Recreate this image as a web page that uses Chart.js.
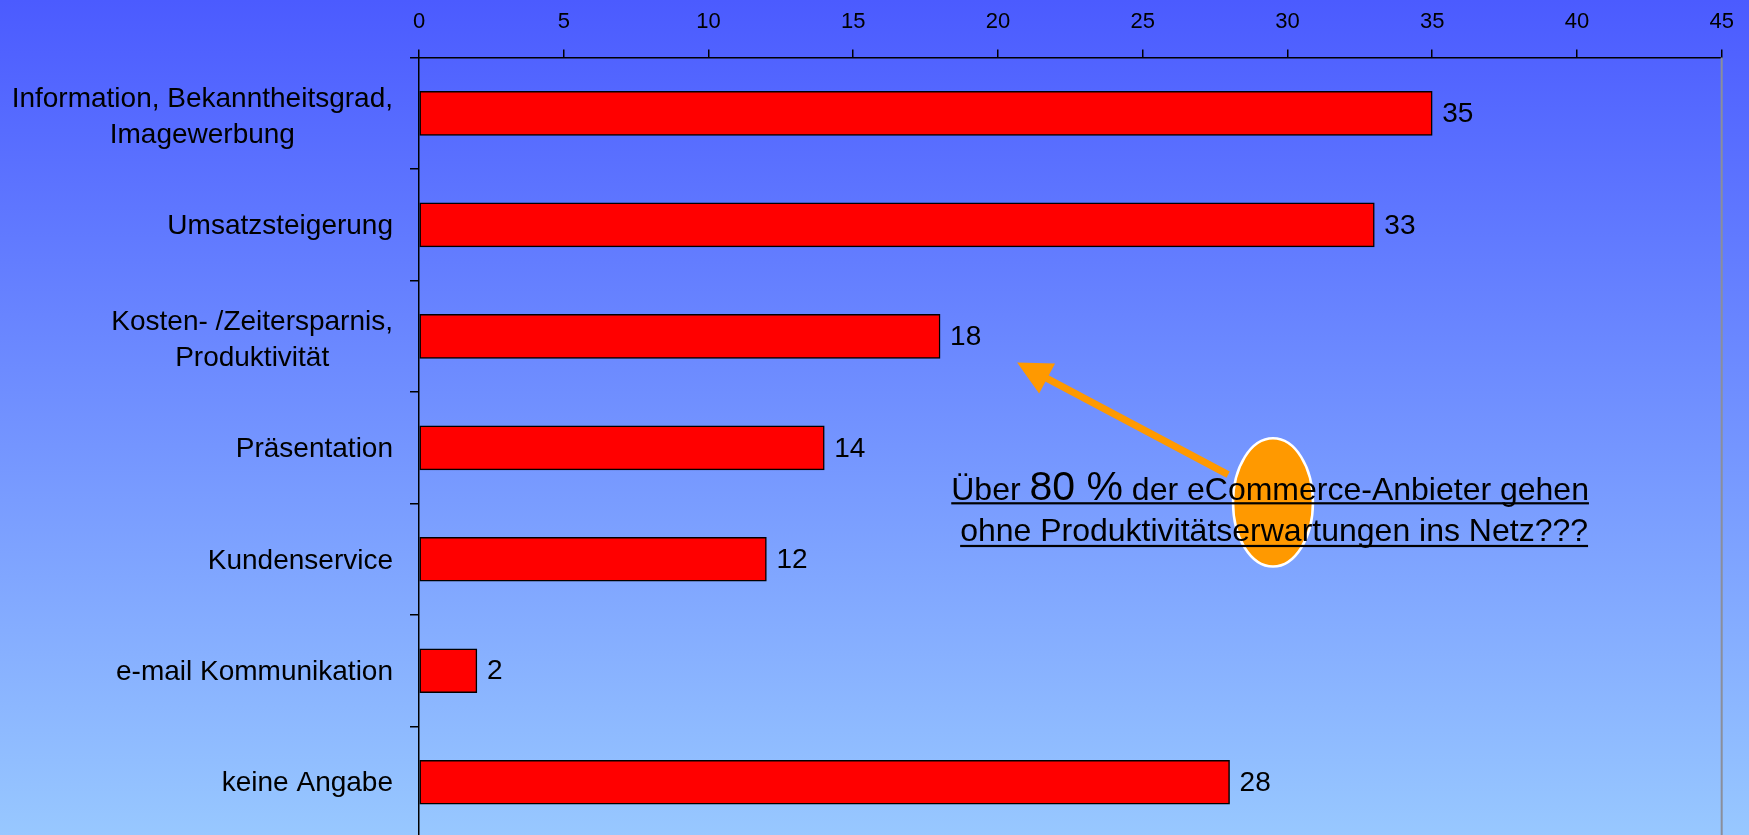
<!DOCTYPE html>
<html>
<head>
<meta charset="utf-8">
<script src="https://cdn.jsdelivr.net/npm/chart.js@4"></script>
<style>
  html, body { margin: 0; padding: 0; overflow: hidden; background: #7293ff; }
  #wrap { width: 1749px; height: 838px; }
  canvas { display: block; }
</style>
</head>
<body>
<div id="wrap"><canvas id="c" width="1749" height="838"></canvas></div>
<script>
const categories = [
  ["Information, Bekanntheitsgrad,", "Imagewerbung"],
  "Umsatzsteigerung",
  ["Kosten- /Zeitersparnis,", "Produktivität"],
  "Präsentation",
  "Kundenservice",
  "e-mail Kommunikation",
  "keine Angabe"
];
const values = [35, 33, 18, 14, 12, 2, 28];
const axisMin = 0;
const axisMax = 45;
const axisStep = 5;
const noteLine1 = ["Über ", "80 %", " der eCommerce-Anbieter gehen"];
const noteLine2 = "ohne Produktivitätserwartungen ins Netz???";

const FONT = "'Liberation Sans', Arial, Helvetica, sans-serif";
Chart.defaults.font.family = FONT;

const bgPlugin = {
  id: 'bg',
  beforeDraw(chart) {
    const { ctx, width, height } = chart;
    const g = ctx.createLinearGradient(0, 0, 0, height);
    g.addColorStop(0, '#4b5bff');
    g.addColorStop(1, '#98c8ff');
    ctx.save();
    ctx.fillStyle = g;
    ctx.fillRect(0, 0, width, height);
    ctx.restore();
  }
};

const catLabelPlugin = {
  id: 'catLabels',
  afterDraw(chart) {
    const ctx = chart.ctx;
    const ys = chart.scales.y;
    const right = ys.right - 9 - 17;
    const lineH = 36.7;
    ctx.save();
    ctx.font = '28px ' + FONT;
    ctx.fillStyle = '#000';
    ctx.textAlign = 'center';
    ctx.textBaseline = 'middle';
    categories.forEach((cat, i) => {
      const lines = Array.isArray(cat) ? cat : [cat];
      const w = Math.max(...lines.map(l => ctx.measureText(l).width));
      const cx = right - w / 2;
      const cy = ys.getPixelForValue(i) + (lines.length > 1 ? 4 : 1.5);
      lines.forEach((l, j) => {
        ctx.fillText(l, cx, cy + (j - (lines.length - 1) / 2) * lineH);
      });
    });
    ctx.restore();
  }
};

const valueLabelPlugin = {
  id: 'valueLabels',
  afterDatasetsDraw(chart) {
    const ctx = chart.ctx;
    const meta = chart.getDatasetMeta(0);
    ctx.save();
    ctx.font = '28px ' + FONT;
    ctx.fillStyle = '#000';
    ctx.textAlign = 'left';
    ctx.textBaseline = 'middle';
    meta.data.forEach((bar, i) => {
      ctx.fillText(String(values[i]), bar.x + 10, bar.y + 1);
    });
    ctx.restore();
  }
};

const borderPlugin = {
  id: 'rightBorder',
  afterDraw(chart) {
    const { ctx, chartArea } = chart;
    ctx.save();
    ctx.strokeStyle = '#8a8f9c';
    ctx.lineWidth = 2;
    ctx.beginPath();
    ctx.moveTo(chartArea.right, chartArea.top);
    ctx.lineTo(chartArea.right, chartArea.bottom);
    ctx.stroke();
    ctx.restore();
  }
};

const notePlugin = {
  id: 'note',
  afterDraw(chart) {
    const ctx = chart.ctx;
    const xs = chart.scales.x, ys = chart.scales.y;
    const orange = '#ff9900';
    // arrow
    const x0 = xs.getPixelForValue(27.95), y0 = ys.getPixelForValue(3.24);
    const x1 = xs.getPixelForValue(20.66), y1 = ys.getPixelForValue(2.235);
    const ang = Math.atan2(y1 - y0, x1 - x0);
    const headL = 34, headW = 17;
    const bx = x1 - Math.cos(ang) * headL, by = y1 - Math.sin(ang) * headL;
    ctx.save();
    ctx.strokeStyle = orange;
    ctx.fillStyle = orange;
    ctx.lineWidth = 7;
    ctx.beginPath();
    ctx.moveTo(x0, y0);
    ctx.lineTo(bx + Math.cos(ang) * 4, by + Math.sin(ang) * 4);
    ctx.stroke();
    ctx.beginPath();
    ctx.moveTo(x1, y1);
    ctx.lineTo(bx + Math.sin(ang) * headW, by - Math.cos(ang) * headW);
    ctx.lineTo(bx - Math.sin(ang) * headW, by + Math.cos(ang) * headW);
    ctx.closePath();
    ctx.fill();
    // ellipse
    const cx = xs.getPixelForValue(29.5), cy = ys.getPixelForValue(3.49);
    const rx = xs.getPixelForValue(29.5 + 1.38) - cx;
    const ry = ys.getPixelForValue(3.49 + 0.575) - cy;
    ctx.beginPath();
    ctx.ellipse(cx, cy, rx, ry, 0, 0, Math.PI * 2);
    ctx.fill();
    ctx.strokeStyle = '#ffffff';
    ctx.lineWidth = 2.5;
    ctx.stroke();
    // text
    const tx = xs.getPixelForValue(29.4);
    const b1 = ys.getPixelForValue(3.47);
    const b2 = ys.getPixelForValue(3.835);
    ctx.fillStyle = '#000';
    ctx.textBaseline = 'alphabetic';
    ctx.textAlign = 'left';
    const fonts = ['32px ' + FONT, '41px ' + FONT, '32px ' + FONT];
    let widths = noteLine1.map((s, k) => { ctx.font = fonts[k]; return ctx.measureText(s).width; });
    const w1 = widths.reduce((a, b) => a + b, 0);
    let sx = tx - w1 / 2;
    const start1 = sx;
    noteLine1.forEach((s, k) => {
      ctx.font = fonts[k];
      ctx.fillText(s, sx, b1);
      sx += widths[k];
    });
    ctx.fillRect(start1, b1 + 2, w1, 2.2);
    ctx.font = '32px ' + FONT;
    const w2 = ctx.measureText(noteLine2).width;
    const start2 = tx - w2 / 2 + 4;
    ctx.fillText(noteLine2, start2, b2);
    ctx.fillRect(start2, b2 + 4, w2, 2.2);
    ctx.restore();
  }
};

new Chart(document.getElementById('c'), {
  type: 'bar',
  data: {
    labels: categories,
    datasets: [{
      data: values,
      backgroundColor: '#ff0000',
      borderColor: '#000000',
      borderWidth: 1.5,
      borderSkipped: false,
      barThickness: 44
    }]
  },
  options: {
    indexAxis: 'y',
    responsive: false,
    animation: false,
    layout: { padding: { top: 0, left: 0, right: 27.3, bottom: 0 } },
    plugins: {
      legend: { display: false },
      tooltip: { enabled: false },
      title: { display: false }
    },
    scales: {
      x: {
        type: 'linear',
        position: 'top',
        min: axisMin,
        max: axisMax,
        ticks: {
          stepSize: axisStep,
          color: '#000',
          font: { size: 22 },
          padding: 14
        },
        grid: {
          drawOnChartArea: false,
          tickLength: 8,
          color: '#000',
          lineWidth: 1.5
        },
        border: { color: '#000', width: 1.5 },
        afterFit(scale) { scale.height = 57.6; }
      },
      y: {
        type: 'category',
        ticks: { display: false },
        grid: {
          offset: true,
          drawOnChartArea: false,
          tickLength: 9,
          color: '#000',
          lineWidth: 1.5
        },
        border: { color: '#000', width: 1.5 },
        afterFit(scale) { scale.width = 419; }
      }
    }
  },
  plugins: [bgPlugin, borderPlugin, valueLabelPlugin, catLabelPlugin, notePlugin]
});
</script>
</body>
</html>
